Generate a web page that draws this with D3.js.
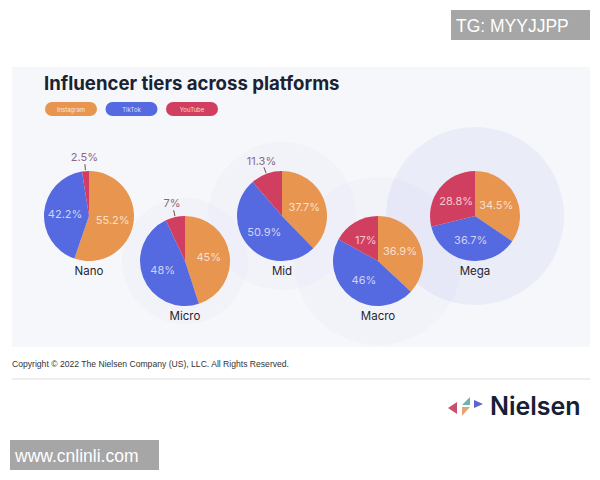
<!DOCTYPE html>
<html>
<head>
<meta charset="utf-8">
<script src="https://cdn.jsdelivr.net/npm/d3@7/dist/d3.min.js"></script>
<style>
  html, body { margin: 0; padding: 0; background: #fff; }
  svg { display: block; }
  text { font-family: Inter, "Liberation Sans", sans-serif; }
</style>
</head>
<body>
<svg id="chart" width="600" height="480"></svg>
<script>
// values
const tiers = ["Nano", "Micro", "Mid", "Macro", "Mega"];
const platforms = ["Instagram", "TikTok", "YouTube"];
const instagram = [55.2, 45, 37.7, 36.9, 34.5];
const tiktok = [42.2, 48, 50.9, 46, 36.7];
const youtube = [2.5, 7, 11.3, 17, 28.8];
const platformColors = ["#e8954f", "#5569e0", "#d13f60"];

// layout
const pieX = [89, 185, 282, 378, 475];
const pieY = [216, 261, 216, 261, 216];
const haloR = [0, 63, 74, 84, 89];
const radius = 45;
const outsideBelow = 12; // share under which a label goes outside the pie

const svg = d3.select("#chart");

const color = d3.scaleOrdinal().domain(platforms).range(platformColors);
const pie = d3.pie().value(d => d.value).sort(null);
const arc = d3.arc().innerRadius(0).outerRadius(radius);
const labelArc = d3.arc().innerRadius(24).outerRadius(24);
const outerLabelArc = d3.arc().innerRadius(59).outerRadius(59);
const tickStart = d3.arc().innerRadius(46).outerRadius(46);
const tickEnd = d3.arc().innerRadius(52).outerRadius(52);

// panel
svg.append("rect").attr("x", 12).attr("y", 67).attr("width", 578).attr("height", 280).attr("fill", "#f6f7fa");

// halos first so every pie sits on top of them
svg.append("g").selectAll("circle").data(tiers).enter().append("circle")
  .attr("cx", (d, i) => pieX[i])
  .attr("cy", (d, i) => pieY[i])
  .attr("r", (d, i) => haloR[i])
  .attr("fill", "#5569e0")
  .attr("opacity", (d, i) => i === 4 ? 0.07 : 0.025);

svg.append("text").attr("x", 44).attr("y", 90)
  .attr("font-size", 18.6).attr("font-weight", 700).attr("fill", "#1a2233")
  .text("Influencer tiers across platforms");

// legend pills
const pillX = d3.scalePoint().domain(platforms).range([45, 166]);
const legend = svg.append("g").selectAll("g").data(platforms).enter().append("g")
  .attr("transform", d => `translate(${pillX(d)},102)`);
legend.append("rect").attr("width", 52).attr("height", 14).attr("rx", 7).attr("fill", d => color(d));
legend.append("text").attr("x", 26).attr("y", 9.6)
  .attr("text-anchor", "middle").attr("font-size", 6).attr("fill", "#fff").attr("fill-opacity", 0.8)
  .text(d => d === "Instagram" ? "Instagram" : d);

// one pie per tier
tiers.forEach((tier, i) => {
  const values = [instagram[i], tiktok[i], youtube[i]].map((v, j) => ({ platform: platforms[j], value: v }));
  const g = svg.append("g").attr("transform", `translate(${pieX[i]},${pieY[i]})`);
  const slices = g.selectAll("g.arc").data(pie(values)).enter().append("g").attr("class", "arc");

  slices.append("path").attr("d", arc).attr("fill", d => color(d.data.platform));

  const outside = d => d.data.value < outsideBelow;

  slices.filter(outside).append("line")
    .attr("x1", d => tickStart.centroid(d)[0])
    .attr("y1", d => tickStart.centroid(d)[1])
    .attr("x2", d => tickEnd.centroid(d)[0])
    .attr("y2", d => tickEnd.centroid(d)[1])
    .attr("stroke", "#6e4a5c").attr("stroke-width", 1);

  slices.append("text")
    .attr("transform", d => `translate(${(outside(d) ? outerLabelArc : labelArc).centroid(d)})`)
    .attr("text-anchor", "middle")
    .attr("dominant-baseline", "central")
    .attr("font-size", 11)
    .attr("fill", d => outside(d) ? "#8a6a7a" : "#fff")
    .attr("fill-opacity", d => outside(d) ? 1 : 0.72)
    .text(d => d.data.value + "%");

  g.append("text").attr("y", 55).attr("text-anchor", "middle").attr("dominant-baseline", "central")
    .attr("font-size", 11.5).attr("fill", "#1f2633").text(tier);
});

// footer
svg.append("text").attr("x", 12).attr("y", 367)
  .attr("font-size", 8.6).attr("fill", "#333")
  .style("font-family", "'Liberation Sans', sans-serif")
  .text("Copyright © 2022 The Nielsen Company (US), LLC. All Rights Reserved.");
svg.append("rect").attr("x", 12).attr("y", 378).attr("width", 578).attr("height", 2).attr("fill", "#eeeeee");

// logo
const logo = svg.append("g");
const tri = [
  { fill: "#c9516a", d: "M448 408L457 402V414Z" },
  { fill: "#6fb3ad", d: "M462 405L470 397V405Z" },
  { fill: "#5f64c8", d: "M474 400L483 404L474 408Z" },
  { fill: "#e2a578", d: "M462 407H470L462 416Z" }
];
logo.selectAll("path").data(tri).enter().append("path").attr("d", d => d.d).attr("fill", d => d.fill);
logo.append("text").attr("x", 490).attr("y", 415)
  .attr("font-size", 25).attr("font-weight", 600).attr("fill", "#152032").text("Nielsen");

// watermarks
const marks = svg.append("g");
marks.append("rect").attr("x", 451).attr("y", 10).attr("width", 139).attr("height", 30).attr("fill", "#a6a6a6");
marks.append("text").attr("x", 456).attr("y", 32).attr("font-size", 17.5).attr("fill", "#fff")
  .style("font-family", "'Liberation Sans', sans-serif").text("TG: MYYJJPP");
marks.append("rect").attr("x", 10).attr("y", 440).attr("width", 149).attr("height", 30).attr("fill", "#a6a6a6");
marks.append("text").attr("x", 15).attr("y", 462).attr("font-size", 17.5).attr("fill", "#fff")
  .style("font-family", "'Liberation Sans', sans-serif").text("www.cnlinli.com");
</script>
</body>
</html>
